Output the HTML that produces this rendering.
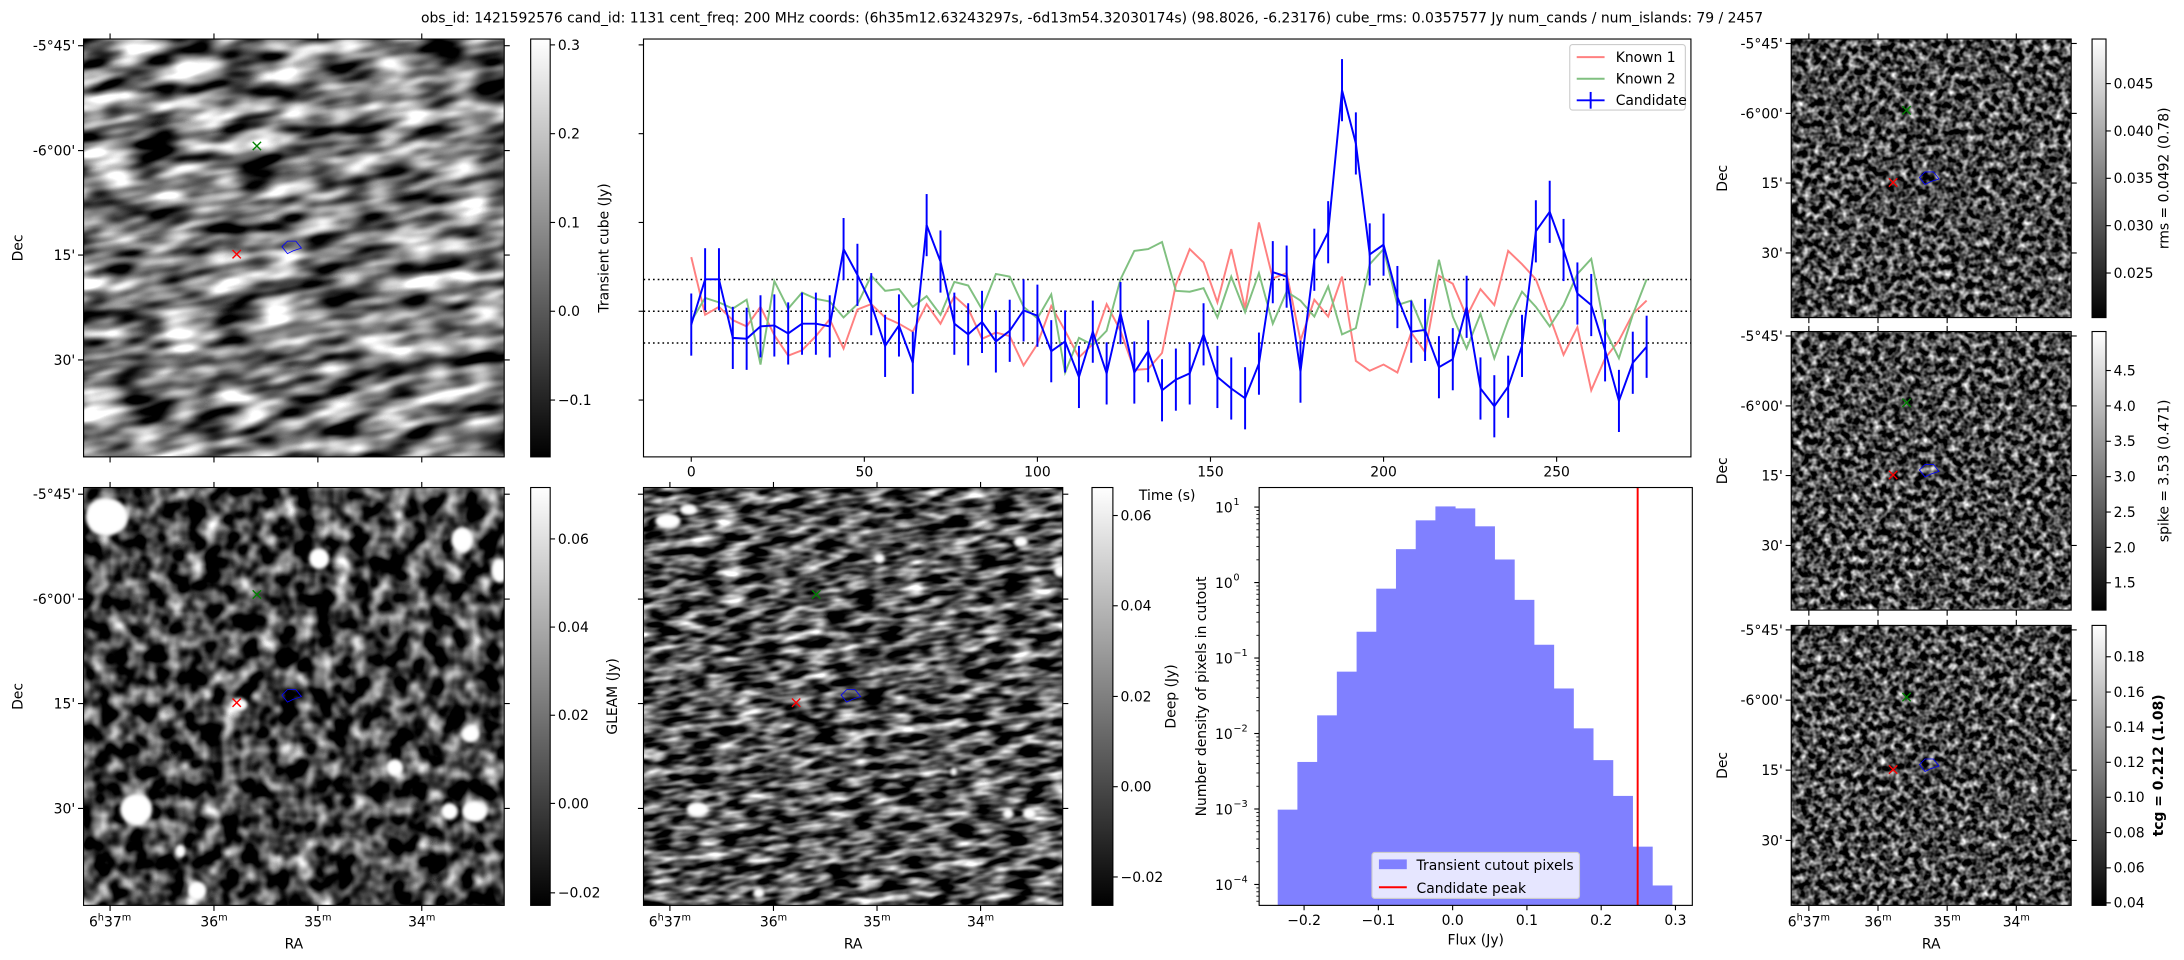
<!DOCTYPE html>
<html><head><meta charset="utf-8"><style>
html,body{margin:0;padding:0;background:#fff;overflow:hidden;width:2184px;height:960px;}
svg{display:block;overflow:hidden;font-family:"DejaVu Sans","Liberation Sans",sans-serif;}
</style></head><body>
<svg id="fig" xmlns="http://www.w3.org/2000/svg" width="2184" height="960" viewBox="0 0 1568 689.2">
<defs>
<linearGradient id="gray" x1="0" y1="1" x2="0" y2="0"><stop offset="0" stop-color="#000"/><stop offset="1" stop-color="#fff"/></linearGradient>
<filter id="fA" x="0" y="0" width="1" height="1" color-interpolation-filters="sRGB"><feTurbulence type="fractalNoise" baseFrequency="0.028 0.085" numOctaves="2" seed="4"/><feColorMatrix type="matrix" values="1 0 0 0 0 1 0 0 0 0 1 0 0 0 0 0 0 0 0 1"/><feComponentTransfer><feFuncR type="linear" slope="2.2" intercept="-0.62"/><feFuncG type="linear" slope="2.2" intercept="-0.62"/><feFuncB type="linear" slope="2.2" intercept="-0.62"/></feComponentTransfer></filter>
<filter id="fB" x="0" y="0" width="1" height="1" color-interpolation-filters="sRGB"><feTurbulence type="fractalNoise" baseFrequency="0.075" numOctaves="2" seed="9"/><feColorMatrix type="matrix" values="1 0 0 0 0 1 0 0 0 0 1 0 0 0 0 0 0 0 0 1"/><feComponentTransfer><feFuncR type="linear" slope="2.0" intercept="-0.75"/><feFuncG type="linear" slope="2.0" intercept="-0.75"/><feFuncB type="linear" slope="2.0" intercept="-0.75"/></feComponentTransfer></filter>
<filter id="fC" x="0" y="0" width="1" height="1" color-interpolation-filters="sRGB"><feTurbulence type="fractalNoise" baseFrequency="0.055 0.16" numOctaves="2" seed="2"/><feColorMatrix type="matrix" values="1 0 0 0 0 1 0 0 0 0 1 0 0 0 0 0 0 0 0 1"/><feComponentTransfer><feFuncR type="linear" slope="2.1" intercept="-0.72"/><feFuncG type="linear" slope="2.1" intercept="-0.72"/><feFuncB type="linear" slope="2.1" intercept="-0.72"/></feComponentTransfer></filter>
<filter id="fR" x="0" y="0" width="1" height="1" color-interpolation-filters="sRGB"><feTurbulence type="fractalNoise" baseFrequency="0.2" numOctaves="2" seed="7"/><feColorMatrix type="matrix" values="1 0 0 0 0 1 0 0 0 0 1 0 0 0 0 0 0 0 0 1"/><feComponentTransfer><feFuncR type="linear" slope="2.0" intercept="-0.72"/><feFuncG type="linear" slope="2.0" intercept="-0.72"/><feFuncB type="linear" slope="2.0" intercept="-0.72"/></feComponentTransfer></filter>
<filter id="blur1"><feGaussianBlur stdDeviation="1.2"/></filter>
</defs>
<text x="784" y="16" font-size="10" text-anchor="middle">obs_id: 1421592576 cand_id: 1131 cent_freq: 200 MHz coords: (6h35m12.63243297s, -6d13m54.32030174s) (98.8026, -6.23176) cube_rms: 0.0357577 Jy num_cands / num_islands: 79 / 2457</text>
<g id="root"></g>
</svg>
<script>
// ---------- light curve data ----------
const times = [0,4,8,12,16,20,24,28,32,36,40,44,48,52,56,60,64,68,72,76,80,84,88,92,96,100,104,108,112,116,120,124,128,132,136,140,144,148,152,156,160,164,168,172,176,180,184,188,192,196,200,204,208,212,216,220,224,228,232,236,240,244,248,252,256,260,264,268,272,276];
const candidateFlux = [-0.015,0.036,0.036,-0.030,-0.031,-0.017,-0.016,-0.025,-0.014,-0.014,-0.017,0.070,0.041,0.008,-0.039,-0.016,-0.058,0.097,0.056,-0.014,-0.026,-0.012,-0.034,-0.022,0.001,-0.005,-0.045,-0.034,-0.074,-0.023,-0.070,-0.002,-0.069,-0.045,-0.089,-0.077,-0.070,-0.026,-0.074,-0.087,-0.098,-0.059,0.044,0.039,-0.068,0.058,0.089,0.249,0.189,0.064,0.075,0.016,-0.023,-0.021,-0.063,-0.054,0.005,-0.087,-0.107,-0.085,-0.039,0.090,0.112,0.069,0.020,0.007,-0.044,-0.101,-0.058,-0.040];
const candidateErr = [0.035,0.035,0.035,0.035,0.035,0.035,0.035,0.035,0.035,0.035,0.035,0.035,0.035,0.035,0.035,0.035,0.035,0.035,0.035,0.035,0.035,0.035,0.035,0.035,0.035,0.035,0.035,0.035,0.035,0.035,0.035,0.035,0.035,0.035,0.035,0.035,0.035,0.035,0.035,0.035,0.035,0.035,0.035,0.035,0.035,0.035,0.035,0.035,0.035,0.035,0.035,0.035,0.035,0.035,0.035,0.035,0.035,0.035,0.035,0.035,0.035,0.035,0.035,0.035,0.035,0.035,0.035,0.035,0.035,0.035];
const known1Flux = [0.061,-0.004,0.005,-0.010,-0.017,0.005,-0.027,-0.050,-0.044,-0.028,-0.009,-0.042,0.002,0.008,-0.007,-0.014,-0.023,0.008,-0.014,0.017,0.003,-0.031,-0.024,-0.028,-0.061,-0.037,0.006,-0.022,-0.052,-0.037,0.008,-0.022,-0.066,-0.065,-0.047,0.030,0.070,0.055,0.010,0.070,0.003,0.100,0.037,0.043,-0.033,0.013,-0.006,0.039,-0.056,-0.067,-0.060,-0.069,-0.024,-0.046,0.040,0.031,-0.006,0.025,0.007,0.068,0.053,0.036,-0.006,-0.049,-0.018,-0.089,-0.053,-0.033,-0.003,0.012];
const known2Flux = [-0.011,0.015,0.010,0.003,0.013,-0.060,0.034,0.003,0.021,0.014,0.011,-0.007,0.008,0.040,0.023,0.025,0.005,0.017,-0.004,0.033,0.029,0.002,0.042,0.039,0.005,-0.008,0.019,-0.069,-0.030,-0.038,-0.022,0.036,0.068,0.070,0.078,0.023,0.022,0.026,-0.007,0.039,-0.001,0.043,-0.014,0.022,0.012,-0.006,0.028,-0.026,-0.019,0.053,0.070,0.007,0.012,-0.025,0.058,-0.006,-0.042,-0.003,-0.053,-0.010,0.022,0.005,-0.017,0.007,0.042,0.059,-0.021,-0.053,-0.004,0.036];
const rmsLevels = [-0.0357577, 0, 0.0357577];
const lcXTicks = [0,50,100,150,200,250];
const lcYTicks = [-0.1,0,0.1,0.2,0.3];
// ---------- histogram data ----------
const histEdges = [-0.2355,-0.2090,-0.1824,-0.1559,-0.1293,-0.1028,-0.0763,-0.0497,-0.0232,0.0034,0.0299,0.0564,0.0830,0.1095,0.1361,0.1626,0.1891,0.2157,0.2422,0.2688,0.2953];
const histDensity = [0.00098,0.0042,0.0174,0.066,0.223,0.83,2.77,6.67,10.2,9.6,5.56,2.02,0.59,0.150,0.0395,0.0117,0.00444,0.00149,0.000317,0.000097];
const candidatePeak = 0.2491;
const histXTicks = [-0.2,-0.1,0.0,0.1,0.2,0.3];
const histXTickLabels = ["\u22120.2","\u22120.1","0.0","0.1","0.2","0.3"];
const histYTickExps = [1,0,-1,-2,-3,-4];
// ---------- colorbar tick labels ----------
const cbATicks = [0.3,0.2,0.1,0.0,-0.1];
const cbALabels = ["0.3","0.2","0.1","0.0","\u22120.1"];
const cbBLabels = ["0.06","0.04","0.02","0.00","\u22120.02"];
const cbCLabels = ["0.06","0.04","0.02","0.00","\u22120.02"];
const cbRmsLabels = ["0.045","0.040","0.035","0.030","0.025"];
const cbSpikeLabels = ["4.5","4.0","3.5","3.0","2.5","2.0","1.5"];
const cbTcgLabels = ["0.18","0.16","0.14","0.12","0.10","0.08","0.06","0.04"];

const NS='http://www.w3.org/2000/svg';
const root=document.getElementById('root');
function mk(tag,attrs,parent){const e=document.createElementNS(NS,tag);for(const k in attrs)e.setAttribute(k,attrs[k]);(parent||root).appendChild(e);return e;}

// ---------- light curve axes ----------
const LC={x0:462,x1:1214,y0:28,y1:328,tmin:-13.8,tmax:288.8,vmin:-0.164,vmax:0.3066};
function lx(t){return LC.x0+(t-LC.tmin)/(LC.tmax-LC.tmin)*(LC.x1-LC.x0);}
function ly(v){return LC.y1-(v-LC.vmin)/(LC.vmax-LC.vmin)*(LC.y1-LC.y0);}
const lcG=mk('g',{});


rmsLevels.forEach(v=>{const l=mk('line',{x1:LC.x0,x2:LC.x1,y1:ly(v),y2:ly(v),stroke:'#000','stroke-width':1.1,'stroke-dasharray':'1.2,2.2'},lcG);

});
function seriesPath(vals){return vals.map((v,i)=>(i?'L':'M')+lx(times[i]).toFixed(2)+','+ly(v).toFixed(2)).join('');}
const k1=mk('path',{d:seriesPath(known1Flux),fill:'none',stroke:'#ff8080','stroke-width':1.4},lcG);


const k2=mk('path',{d:seriesPath(known2Flux),fill:'none',stroke:'#80c080','stroke-width':1.4},lcG);


candidateFlux.forEach((v,i)=>{const e=mk('line',{x1:lx(times[i]),x2:lx(times[i]),y1:ly(v-candidateErr[i]),y2:ly(v+candidateErr[i]),stroke:'#0000ff','stroke-width':1.4},lcG);

});
const cl=mk('path',{d:seriesPath(candidateFlux),fill:'none',stroke:'#0000ff','stroke-width':1.4},lcG);


const lcFrame=mk('rect',{x:LC.x0,y:LC.y0,width:LC.x1-LC.x0,height:LC.y1-LC.y0,fill:'none',stroke:'#000','stroke-width':0.8},lcG);


lcXTicks.forEach(t=>{mk('line',{x1:lx(t),x2:lx(t),y1:LC.y1,y2:LC.y1+3.5,stroke:'#000','stroke-width':0.8},lcG);
const tx=mk('text',{x:lx(t),y:LC.y1+14,'font-size':10,'text-anchor':'middle'},lcG);tx.textContent=String(t);

});
lcYTicks.forEach(v=>{mk('line',{x1:LC.x0-3.5,x2:LC.x0,y1:ly(v),y2:ly(v),stroke:'#000','stroke-width':0.8},lcG);});
const tl=mk('text',{x:838,y:359,'font-size':10,'text-anchor':'middle'},lcG);tl.textContent='Time (s)';


// legend
const lg=mk('g',{},lcG);


mk('rect',{x:1127,y:32,width:83,height:47,rx:2,fill:'#fff',stroke:'#ccc','stroke-width':0.8},lg);
[['Known 1','#ff8080'],['Known 2','#80c080'],['Candidate','#0000ff']].forEach((e,i)=>{const y=39+i*15.5;
mk('line',{x1:1132,x2:1152,y1:y+2,y2:y+2,stroke:e[1],'stroke-width':1.4},lg);
if(i==2)mk('line',{x1:1142,x2:1142,y1:y-4,y2:y+8,stroke:e[1],'stroke-width':1.4},lg);
const t=mk('text',{x:1160,y:y+5.5,'font-size':10},lg);t.textContent=e[0];

});

// ---------- histogram ----------
const H={x0:904,x1:1215,y0:350,y1:650,xmin:-0.2605,xmax:0.3227,lmin:-4.277,lmax:1.259};
function hx(v){return H.x0+(v-H.xmin)/(H.xmax-H.xmin)*(H.x1-H.x0);}
function hy(d){return H.y1-(Math.log10(d)-H.lmin)/(H.lmax-H.lmin)*(H.y1-H.y0);}
const hG=mk('g',{});


histDensity.forEach((d,i)=>{const b=mk('rect',{x:hx(histEdges[i]),width:hx(histEdges[i+1])-hx(histEdges[i])+0.3,y:hy(d),height:H.y1-hy(d),fill:'#8080ff'},hG);

});
const pk=mk('line',{x1:hx(candidatePeak),x2:hx(candidatePeak),y1:H.y0,y2:H.y1,stroke:'#ff0000','stroke-width':1.4},hG);


const hf=mk('rect',{x:H.x0,y:H.y0,width:H.x1-H.x0,height:H.y1-H.y0,fill:'none',stroke:'#000','stroke-width':0.8},hG);


histXTicks.forEach((v,i)=>{mk('line',{x1:hx(v),x2:hx(v),y1:H.y1,y2:H.y1+3.5,stroke:'#000','stroke-width':0.8},hG);
const t=mk('text',{x:hx(v),y:H.y1+14,'font-size':10,'text-anchor':'middle'},hG);t.textContent=histXTickLabels[i];

});
histYTickExps.forEach(e=>{const y=hy(Math.pow(10,e));mk('line',{x1:H.x0-3.5,x2:H.x0,y1:y,y2:y,stroke:'#000','stroke-width':0.8},hG);
for(let m=2;m<10;m++){const ym=hy(m*Math.pow(10,e));if(ym>H.y0&&ym<H.y1)mk('line',{x1:H.x0-2,x2:H.x0,y1:ym,y2:ym,stroke:'#000','stroke-width':0.6},hG);}
for(let m=2;m<10;m++){const ym=hy(m*Math.pow(10,e-1));if(e==-4&&ym>H.y0&&ym<H.y1)mk('line',{x1:H.x0-2,x2:H.x0,y1:ym,y2:ym,stroke:'#000','stroke-width':0.6},hG);}
const t=mk('text',{x:H.x0-19,y:y+4,'font-size':10,'text-anchor':'end'},hG);t.textContent='10';
const s=mk('text',{x:H.x0-18.5,y:y-1.5,'font-size':7},hG);s.textContent=(e<0?'\u2212':'')+Math.abs(e);

});
const hxl=mk('text',{x:(H.x0+H.x1)/2,y:H.y1+28,'font-size':10,'text-anchor':'middle'},hG);hxl.textContent='Flux (Jy)';


const hyl=mk('text',{x:0,y:0,'font-size':10,'text-anchor':'middle',transform:'translate(866,'+(H.y0+H.y1)/2+') rotate(-90)'},hG);hyl.textContent='Number density of pixels in cutout';


const hl=mk('g',{},hG);


mk('rect',{x:985,y:612,width:149,height:33,rx:2,fill:'#fff','fill-opacity':0.8,stroke:'#ccc','stroke-width':0.8},hl);
mk('rect',{x:990,y:617,width:20,height:7,fill:'#8080ff'},hl);
mk('line',{x1:990,x2:1010,y1:637,y2:637,stroke:'#ff0000','stroke-width':1.4},hl);
const hl1=mk('text',{x:1017,y:624.5,'font-size':10},hl);hl1.textContent='Transient cutout pixels';


const hl2=mk('text',{x:1017,y:641,'font-size':10},hl);hl2.textContent='Candidate peak';



// ---------- image panels ----------
let clipN=0;
const raFr=[0.063,0.31,0.557,0.804], raLab=[['6','h','37','m'],['','','36','m'],['','','35','m'],['','','34','m']];
const decFr=[0.016,0.267,0.517,0.768], decLab=["-5\u00b045'","-6\u00b000'","15'","30'"];
function imagePanel(name,x,y,w,h,filt,rot,blobs,opts){
 const g=mk('g',{});
 
 
 const cid='clip'+(clipN++);
 const cp=mk('clipPath',{id:cid},g);mk('rect',{x:x,y:y,width:w,height:h},cp);
 const ig=mk('g',{'clip-path':'url(#'+cid+')'},g);
 mk('rect',{x:x,y:y,width:w,height:h,fill:'#444'},ig);
 mk('rect',{x:x-w*0.15,y:y-h*0.15,width:w*1.3,height:h*1.3,filter:'url(#'+filt+')',transform:'rotate('+rot+' '+(x+w/2)+' '+(y+h/2)+')'},ig);
 const bg=mk('g',{filter:'url(#blur1)'},ig);
 blobs.forEach(b=>{mk('ellipse',{cx:x+b[0]*w,cy:y+b[1]*h,rx:b[2]*w,ry:b[3]*h,fill:'#fff'},bg);});
 const gx=x+0.412*w, gy=y+0.256*h, rx=x+0.364*w, ry=y+0.515*h, bx=x+0.498*w, by=y+0.497*h;
 const gm=mk('path',{d:`M${gx-3},${gy-3}L${gx+3},${gy+3}M${gx-3},${gy+3}L${gx+3},${gy-3}`,stroke:'#008000','stroke-width':1},g);
 
 
 const rm=mk('path',{d:`M${rx-3},${ry-3}L${rx+3},${ry+3}M${rx-3},${ry+3}L${rx+3},${ry-3}`,stroke:'#ff0000','stroke-width':1},g);
 
 
 const bm=mk('path',{d:`M${bx-8},${by}L${bx-4},${by-4}L${bx+2},${by-4}L${bx+6},${by+1}L${bx},${by+3}L${bx-4},${by+5}Z`,fill:'none',stroke:'#0000ff','stroke-width':0.6},g);
 
 
 mk('rect',{x:x,y:y,width:w,height:h,fill:'none',stroke:'#000','stroke-width':0.8},g);
 raFr.forEach((f,i)=>{const tx=x+f*w;mk('line',{x1:tx,x2:tx,y1:y,y2:y-4,stroke:'#000','stroke-width':0.8},g);mk('line',{x1:tx,x2:tx,y1:y+h,y2:y+h+4,stroke:'#000','stroke-width':0.8},g);
  if(opts.ra){const t=mk('text',{x:tx,y:y+h+15,'font-size':10,'text-anchor':'middle'},g);
   const L=raLab[i];
   if(L[0]){const a=mk('tspan',{},t);a.textContent=L[0];const b=mk('tspan',{'font-size':7,dy:-4},t);b.textContent=L[1];const c=mk('tspan',{dy:4},t);c.textContent=L[2];}
   else{const c=mk('tspan',{},t);c.textContent=L[2];}
   const d=mk('tspan',{'font-size':7,dy:-4},t);d.textContent=L[3];
   
   }});
 decFr.forEach((f,i)=>{const ty=y+f*h;mk('line',{x1:x-4,x2:x,y1:ty,y2:ty,stroke:'#000','stroke-width':0.8},g);mk('line',{x1:x+w,x2:x+w+4,y1:ty,y2:ty,stroke:'#000','stroke-width':0.8},g);
  if(opts.dec){const t=mk('text',{x:x-6,y:ty+3.5,'font-size':10,'text-anchor':'end'},g);t.textContent=decLab[i];
   
   }});
 if(opts.dec){const t=mk('text',{x:0,y:0,'font-size':10,'text-anchor':'middle',transform:`translate(${opts.decX},${y+h/2}) rotate(-90)`},g);t.textContent='Dec';
  
  }
 if(opts.ra){const t=mk('text',{x:x+w/2,y:y+h+31,'font-size':10,'text-anchor':'middle'},g);t.textContent='RA';
  
  }
}
function colorbar(name,x,y,w,h,fracs,labels,title,titleX,bold){
 const g=mk('g',{});
 
 
 mk('rect',{x:x,y:y,width:w,height:h,fill:'url(#gray)',stroke:'#000','stroke-width':0.8},g);
 fracs.forEach((f,i)=>{const ty=y+f*h;mk('line',{x1:x+w,x2:x+w+3.5,y1:ty,y2:ty,stroke:'#000','stroke-width':0.8},g);
  const t=mk('text',{x:x+w+5.5,y:ty+3.5,'font-size':10},g);t.textContent=labels[i];
  
  });
 const t=mk('text',{x:0,y:0,'font-size':10,'text-anchor':'middle','font-weight':bold?'bold':'normal',transform:`translate(${titleX},${y+h/2}) rotate(-90)`},g);t.textContent=title;
 
 
}
const blobsB=[[0.055,0.07,0.05,0.045],[0.56,0.17,0.024,0.024],[0.9,0.125,0.026,0.03],[0.99,0.2,0.02,0.028],[0.125,0.77,0.038,0.037],[0.92,0.59,0.022,0.02],[0.74,0.67,0.02,0.02],[0.93,0.775,0.03,0.025],[0.87,0.775,0.02,0.02],[0.27,0.965,0.022,0.022],[0.23,0.87,0.012,0.015],[0.37,0.52,0.02,0.015]];
const blobsC=[[0.058,0.08,0.03,0.018],[0.107,0.053,0.02,0.013],[0.563,0.17,0.013,0.012],[0.9,0.13,0.017,0.013],[0.995,0.2,0.015,0.015],[0.128,0.77,0.025,0.018],[0.87,0.78,0.012,0.012],[0.92,0.78,0.015,0.013],[0.275,0.97,0.013,0.012],[0.74,0.68,0.008,0.01]];
imagePanel('transient-cube-image',60,28,302,300,'fA',-9,[],{dec:true,ra:false,decX:16});
colorbar('transient-cube-colorbar',381,28,14,300,cbATicks.map(v=>(0.3066-v)/(0.3066+0.164)),cbALabels,'Transient cube (Jy)',437,false);
imagePanel('gleam-image',60,350,302,300,'fB',0,blobsB,{dec:true,ra:true,decX:16});
colorbar('gleam-colorbar',381,350,14,300,[0.123,0.334,0.545,0.756,0.97],cbBLabels,'GLEAM (Jy)',443,false);
imagePanel('deep-image',462,350,301,300,'fC',-6,blobsC,{dec:false,ra:true});
colorbar('deep-colorbar',784,350,15,300,[0.067,0.283,0.5,0.716,0.932],cbCLabels,'Deep (Jy)',844,false);
imagePanel('rms-image',1286,28,201,200,'fR',-5,[],{dec:true,ra:false,decX:1240});
colorbar('rms-colorbar',1502,28,10,200,[0.16,0.33,0.5,0.67,0.84],cbRmsLabels,'rms = 0.0492 (0.78)',1557,false);
imagePanel('spike-image',1286,238,201,200,'fR',0,[],{dec:true,ra:false,decX:1240});
colorbar('spike-colorbar',1502,238,10,200,[0.14,0.267,0.394,0.521,0.648,0.775,0.902],cbSpikeLabels,'spike = 3.53 (0.471)',1557,false);
imagePanel('tcg-image',1286,449,201,201,'fR',-8,[],{dec:true,ra:true,decX:1240});
colorbar('tcg-colorbar',1502,449,10,201,[0.112,0.238,0.363,0.489,0.614,0.74,0.866,0.991],cbTcgLabels,'tcg = 0.212 (1.08)',1553,true);
</script>
</body></html>
